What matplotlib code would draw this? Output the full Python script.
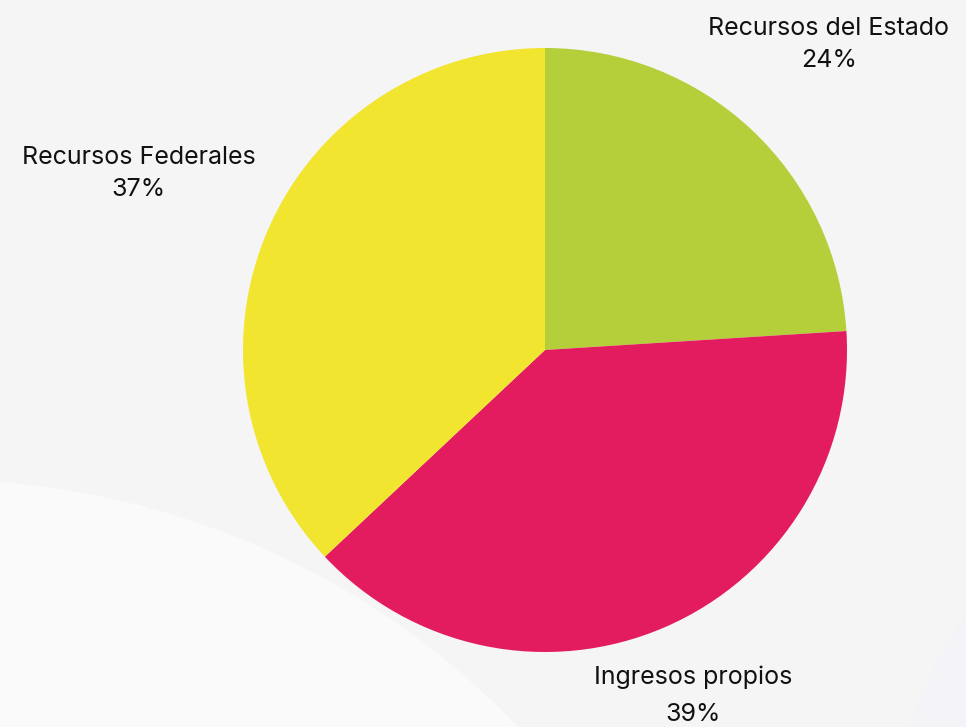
import matplotlib.pyplot as plt
from matplotlib.patches import Circle

labels = ["Recursos del Estado", "Ingresos propios", "Recursos Federales"]
shares = [24, 39, 37]
colors = ["#b5cf3a", "#e31c5f", "#f2e52f"]

# where each label sits, in pie-radius units
label_pos = [(0.94, 1.01), (0.49, -1.145), (-1.345, 0.585)]

W, H = 966, 727
fig = plt.figure(figsize=(W / 100, H / 100), dpi=100)
fig.patch.set_facecolor("#f5f5f5")

# soft lighter blob in the lower left, like the page background
bg = fig.add_axes([0, 0, 1, 1])
bg.set_xlim(0, W)
bg.set_ylim(H, 0)
bg.axis("off")
bg.add_patch(Circle((-60, 1280), 800, color="#fafafa", lw=0))
bg.add_patch(Circle((1400, 900), 520, color="#f3f3f8", lw=0, zorder=0))

cx, cy, r = 545, 350, 302
ax = fig.add_axes([(cx - r) / W, (H - cy - r) / H, 2 * r / W, 2 * r / H])
ax.pie(shares, colors=colors, startangle=90, counterclock=False,
       wedgeprops={"linewidth": 0})
ax.set_xlim(-1, 1)
ax.set_ylim(-1, 1)
ax.set_aspect("equal")

for i, (name, v, (x, y)) in enumerate(zip(labels, shares, label_pos)):
    ax.text(x, y, f"{name}\n{v}%", ha="center", va="center",
            fontsize=18, family="Inter", color="#111111",
            linespacing=1.75 if i == 1 else 1.5, clip_on=False)

fig.savefig("out.png", dpi=100, facecolor=fig.get_facecolor())
